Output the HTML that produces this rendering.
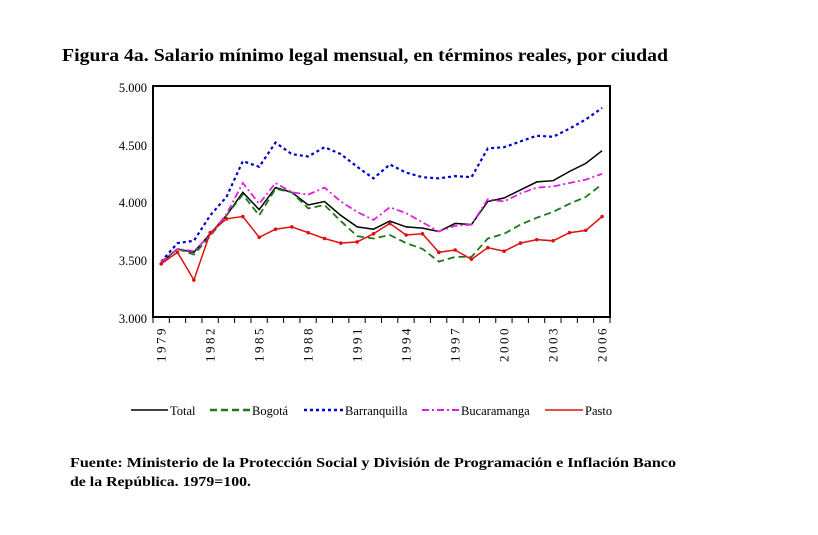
<!DOCTYPE html><html><head><meta charset="utf-8"><style>body{margin:0;background:#fff}svg{display:block}text{font-family:"Liberation Serif",serif}</style></head><body>
<svg id="s" width="818" height="535" xmlns="http://www.w3.org/2000/svg">
<text x="62" y="61" font-size="18" font-weight="bold" textLength="606" lengthAdjust="spacingAndGlyphs">Figura 4a. Salario mínimo legal mensual, en términos reales, por ciudad</text>
<text x="70" y="467" font-size="14" font-weight="bold" textLength="606" lengthAdjust="spacingAndGlyphs">Fuente: Ministerio de la Protección Social y División de Programación  e Inflación  Banco</text>
<text x="70" y="486" font-size="14" font-weight="bold" textLength="181" lengthAdjust="spacingAndGlyphs">de la República. 1979=100.</text>
<g font-size="12.5" text-anchor="end">
<text x="147" y="92">5.000</text><text x="147" y="150">4.500</text><text x="147" y="207">4.000</text><text x="147" y="265">3.500</text><text x="147" y="323">3.000</text>
</g>
<g id="g"></g>
<g font-size="12.5">
<line x1="131" y1="410" x2="168" y2="410" stroke="#000" stroke-width="1.5"/><text x="170" y="415">Total</text>
<line x1="210" y1="410" x2="250" y2="410" stroke="#1a7a1a" stroke-width="2.5" stroke-dasharray="7,4"/><text x="252" y="415">Bogotá</text>
<line x1="304" y1="410" x2="343" y2="410" stroke="#0000cc" stroke-width="2.5" stroke-dasharray="3,3"/><text x="345" y="415">Barranquilla</text>
<line x1="422" y1="410" x2="459" y2="410" stroke="#e020e0" stroke-width="2" stroke-dasharray="7,3,2,3"/><text x="461" y="415">Bucaramanga</text>
<line x1="545" y1="410" x2="583" y2="410" stroke="#e01010" stroke-width="1.5"/><text x="585" y="415">Pasto</text>
</g>
</svg>
<script>
var g=document.getElementById('g'),h='';
function X(i){return 161.2+16.33*i}function Y(v){return 317-(v-3000)*0.1155}
h+='<rect x="153" y="86" width="457" height="231" fill="none" stroke="#000" stroke-width="2"/>';
for(var i=0;i<=28;i++){var x=153+i*457/28;h+='<line x1="'+x+'" y1="317" x2="'+x+'" y2="323" stroke="#000"/>';}
for(var i=0;i<28;i+=3){var x=X(i)+4.5;h+='<text transform="translate('+x+',326) rotate(-90)" font-size="13" text-anchor="end" letter-spacing="2.5">'+(1979+i)+'</text>';}
var S=[
["#000",1.5,"",[3470,3590,3560,3720,3880,4080,3930,4120,4080,3970,4000,3880,3780,3760,3830,3780,3770,3740,3810,3800,4000,4030,4100,4170,4180,4260,4330,4440]],
["#1a7a1a",1.8,"7,4",[3470,3590,3540,3700,3880,4060,3880,4110,4080,3940,3970,3830,3700,3680,3710,3640,3590,3480,3520,3520,3680,3720,3800,3860,3910,3980,4040,4150]],
["#0000cc",2.2,"3,3",[3480,3640,3660,3880,4040,4350,4300,4510,4410,4390,4470,4410,4300,4200,4320,4250,4210,4200,4220,4210,4460,4470,4520,4570,4560,4630,4710,4810]],
["#e020e0",1.8,"7,3,2,3",[3480,3590,3570,3710,3890,4160,3980,4160,4080,4060,4120,4000,3910,3840,3950,3900,3820,3740,3790,3800,4020,4000,4070,4120,4130,4160,4190,4240]],
["#e01010",1.5,"",[3460,3560,3320,3730,3850,3870,3690,3760,3780,3730,3680,3640,3650,3720,3810,3710,3720,3560,3580,3500,3600,3570,3640,3670,3660,3730,3750,3870]]];
S.forEach(function(s,k){var p=s[3].map(function(v,i){return X(i).toFixed(1)+','+Y(v).toFixed(1)}).join(' ');
h+='<polyline points="'+p+'" fill="none" stroke="'+s[0]+'" stroke-width="'+s[1]+'"'+(s[2]?' stroke-dasharray="'+s[2]+'"':'')+'/>';
if(k==4)s[3].forEach(function(v,i){h+='<circle cx="'+X(i)+'" cy="'+Y(v)+'" r="1.8" fill="#e01010"/>'});});
g.innerHTML=h;
</script></body></html>
